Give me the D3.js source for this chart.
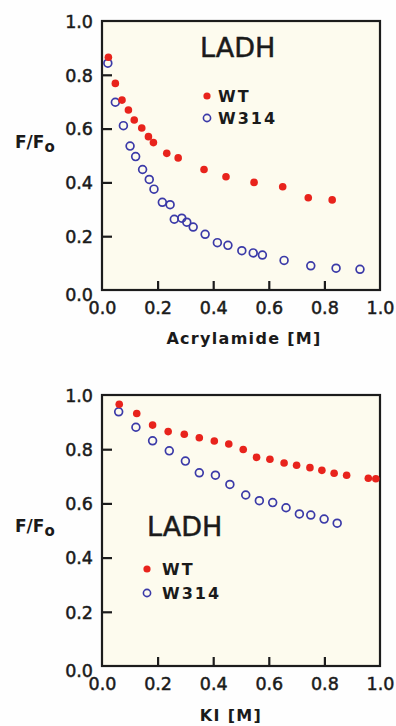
<!DOCTYPE html>
<html><head><meta charset="utf-8">
<script src="https://cdn.jsdelivr.net/npm/d3@7"></script>
<style>
html,body{margin:0;padding:0;background:#fefefe;}
svg{display:block;}
text{font-family:"DejaVu Sans",sans-serif;fill:#1a1a1a;}
</style></head>
<body>
<script>
// ---- data ----
const acrylWT_x = [0.023,0.048,0.072,0.095,0.116,0.143,0.167,0.185,0.233,0.274,0.367,0.446,0.547,0.650,0.742,0.828];
const acrylWT_y = [0.865,0.768,0.706,0.669,0.632,0.602,0.570,0.548,0.508,0.491,0.448,0.421,0.400,0.384,0.343,0.335];
const acrylW314_x = [0.021,0.048,0.077,0.101,0.121,0.146,0.170,0.187,0.217,0.245,0.260,0.287,0.305,0.328,0.371,0.415,0.453,0.503,0.544,0.577,0.655,0.751,0.842,0.928];
const acrylW314_y = [0.843,0.698,0.611,0.535,0.496,0.448,0.411,0.375,0.326,0.317,0.263,0.267,0.252,0.234,0.207,0.176,0.166,0.146,0.138,0.130,0.110,0.090,0.081,0.077];
const kiWT_x = [0.062,0.125,0.182,0.238,0.296,0.350,0.404,0.456,0.508,0.556,0.604,0.655,0.700,0.748,0.791,0.835,0.880,0.958,0.985];
const kiWT_y = [0.966,0.932,0.889,0.865,0.855,0.842,0.830,0.819,0.799,0.770,0.763,0.749,0.741,0.732,0.722,0.711,0.704,0.693,0.691];
const kiW314_x = [0.060,0.122,0.182,0.242,0.300,0.350,0.408,0.460,0.517,0.566,0.614,0.662,0.710,0.751,0.799,0.846];
const kiW314_y = [0.938,0.881,0.831,0.794,0.756,0.713,0.704,0.670,0.631,0.610,0.603,0.584,0.561,0.557,0.542,0.527];
const tickVals = [0,0.2,0.4,0.6,0.8,1.0];
const tickLabels = ["0.0","0.2","0.4","0.6","0.8","1.0"];
const seriesNames = ["WT","W314"];
const titleText = "LADH";
const yTitle = ["F/F","o"];
const xTitles = ["Acrylamide [M]","KI [M]"];

const RED = "#e8231c", BLUE = "#3b3aa8", INK = "#1c1c1c";
const W = 396, H = 726;
const svg = d3.select("body").append("svg").attr("width",W).attr("height",H);

function panel(cfg){
  const x = d3.scaleLinear().domain([0,1]).range([102,380]);
  const y = d3.scaleLinear().domain([0,1]).range([cfg.y0, cfg.y1]);
  const g = svg.append("g");
  g.append("rect").attr("x",102).attr("y",cfg.y1).attr("width",278).attr("height",cfg.y0-cfg.y1)
    .attr("fill","#fdfbee").attr("stroke","none");
  const xa = d3.axisBottom(x).tickValues(tickVals).tickFormat((d,i)=>tickLabels[i]).tickSize(-9).tickPadding(12);
  const ya = d3.axisLeft(y).tickValues(tickVals).tickFormat((d,i)=>tickLabels[i]).tickSize(-10).tickPadding(9);
  const gx = g.append("g").attr("transform",`translate(0,${cfg.y0})`).call(xa);
  const gy = g.append("g").attr("transform",`translate(102,0)`).call(ya);
  [gx,gy].forEach(a=>{
    a.select(".domain").remove();
    a.selectAll("line").attr("stroke",INK).attr("stroke-width",2.2);
    a.selectAll("text").attr("font-size",17.5).attr("fill",INK)
      .attr("stroke",INK).attr("stroke-width",0.5);
  });
  gx.selectAll(".tick").filter(d=>d===0||d===1).select("line").remove();
  gy.selectAll(".tick").filter(d=>d===0||d===1).select("line").remove();
  gy.selectAll("text").attr("dy","0.36em");
  gy.selectAll(".tick").filter(d=>d===0).select("text").attr("dy","0.6em");
  g.append("rect").attr("x",102).attr("y",cfg.y1).attr("width",278).attr("height",cfg.y0-cfg.y1)
    .attr("fill","none").attr("stroke",INK).attr("stroke-width",2.2);
  // y title
  const yt = g.append("text").attr("x",15).attr("y",cfg.yTitleY).attr("font-size",17).attr("font-weight","bold");
  yt.append("tspan").text(yTitle[0]);
  yt.append("tspan").text(yTitle[1]).attr("dy",4).attr("font-size",15);
  // x title
  g.append("text").attr("x",cfg.xTitleX).attr("y",cfg.xTitleY).attr("text-anchor","middle")
    .attr("font-size",16).attr("font-weight","bold").style("letter-spacing","1.3px").text(cfg.xTitle);
  // data: blue first, red on top
  g.selectAll("circle.b").data(d3.zip(cfg.bx,cfg.by)).join("circle")
    .attr("cx",d=>x(d[0])).attr("cy",d=>y(d[1])).attr("r",3.9)
    .attr("fill","none").attr("stroke",BLUE).attr("stroke-width",1.7);
  g.selectAll("circle.r").data(d3.zip(cfg.rx,cfg.ry)).join("circle")
    .attr("cx",d=>x(d[0])).attr("cy",d=>y(d[1])).attr("r",3.8).attr("fill",RED);
  // title + legend
  g.append("text").attr("x",cfg.lx).attr("y",cfg.ly).attr("font-size",27)
    .attr("stroke",INK).attr("stroke-width",0.5).text(titleText);
  g.append("circle").attr("cx",cfg.legX).attr("cy",cfg.legY).attr("r",3.6).attr("fill",RED);
  g.append("circle").attr("cx",cfg.legX).attr("cy",cfg.legY+cfg.legDy).attr("r",3.6).attr("fill","none").attr("stroke",BLUE).attr("stroke-width",1.6);
  g.append("text").attr("x",cfg.legX+cfg.legGap).attr("y",cfg.legY+6).attr("font-size",16).attr("font-weight","bold").style("letter-spacing","2px").text(seriesNames[0]);
  g.append("text").attr("x",cfg.legX+cfg.legGap).attr("y",cfg.legY+cfg.legDy+6).attr("font-size",16).attr("font-weight","bold").style("letter-spacing","2px").text(seriesNames[1]);
}

panel({y0:290,y1:21,rx:acrylWT_x,ry:acrylWT_y,bx:acrylW314_x,by:acrylW314_y,
  yTitleY:148,xTitle:xTitles[0],xTitleX:244,xTitleY:344,
  lx:200,ly:57,legX:207,legY:96,legDy:22,legGap:11});
panel({y0:666,y1:395,rx:kiWT_x,ry:kiWT_y,bx:kiW314_x,by:kiW314_y,
  yTitleY:532,xTitle:xTitles[1],xTitleX:231,xTitleY:721,
  lx:147,ly:536,legX:147,legY:569,legDy:24,legGap:15});
</script>
</body></html>
